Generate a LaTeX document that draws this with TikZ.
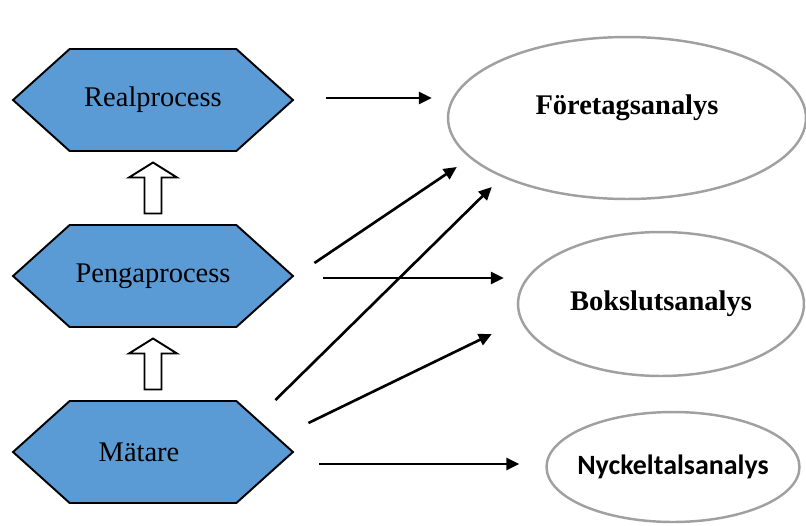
\documentclass[tikz,border=0pt]{standalone}
\usepackage{fontspec}
\setmainfont{Liberation Serif}
\newfontfamily\calibrifont{Carlito}
\usetikzlibrary{shapes.geometric,shapes.symbols,arrows.meta,calc}
\definecolor{hexblaa}{RGB}{91,155,213}
\definecolor{ramgraa}{RGB}{160,160,160}

\begin{document}
\begin{tikzpicture}[x=0.02cm, y=-0.02cm,
    process/.style={signal, signal to=east and west, signal pointer angle=84,
      draw=black, line width=1.1pt, fill=hexblaa, inner sep=0pt,
      minimum width=5.6cm, minimum height=2.04cm, font=\fontsize{16.2}{19}\selectfont},
    analys/.style={ellipse, draw=ramgraa, line width=1.4pt, inner sep=0pt},
    analystext/.style={font=\fontsize{16.2}{19}\selectfont\bfseries},
    pil/.style={-{Triangle[length=0.26cm,width=0.24cm]}, line width=1.5pt},
    blockpil/.style={draw=black, line width=1.1pt, fill=white}]

    \useasboundingbox (0,0) rectangle (806,525);

    % Processer
    \node[process] (real) at (153,100) {Realprocess};
    \node[process] (penga) at (153,276) {Pengaprocess};
    \node[process] (mat) at (153,452) {Mätare\hspace*{0.56cm}};

    % Analyser
    \node[analys, minimum width=7.16cm, minimum height=3.24cm,
      label={[analystext, yshift=0.2cm]center:Företagsanalys}] (foret) at (627,118) {};
    \node[analys, minimum width=5.72cm, minimum height=2.88cm,
      label={[analystext]center:Bokslutsanalys}] (boks) at (661,304) {};
    \node[analys, minimum width=5.06cm, minimum height=2.2cm,
      label={[analystext, font=\calibrifont\fontsize{15.9}{19}\selectfont\bfseries]center:Nyckeltalsanalys}] (nyck) at (673,467) {};

    % Blockpilar mellan processerna
    \foreach \fran/\till in {penga/real, mat/penga}{
      \draw[blockpil, shift={($(\fran.north)!0.5!(\till.south)$)}]
        (0,-25.5) -- (24,-10.5) -- (8.5,-10.5) -- (8.5,25.5)
        -- (-8.5,25.5) -- (-8.5,-10.5) -- (-24,-10.5) -- cycle;
    }

    % Pilar till analyserna
    \draw[pil] ([shift={(32,-2)}]real.east) -- ([shift={(-15,-20)}]foret.west);
    \draw[pil] ([shift={(20,-13)}]penga.east) -- ([shift={(10,49)}]foret.west);
    \draw[pil] ([shift={(29,2)}]penga.east) -- ([shift={(-13,-26)}]boks.west);
    \draw[pil] ([shift={(-19,-52)}]mat.east) -- ([shift={(45,69)}]foret.west);
    \draw[pil] ([shift={(14,-29)}]mat.east) -- ([shift={(-25,30)}]boks.west);
    \draw[pil] ([shift={(25,12)}]mat.east) -- ([shift={(-26,-3)}]nyck.west);

\end{tikzpicture}
\end{document}
